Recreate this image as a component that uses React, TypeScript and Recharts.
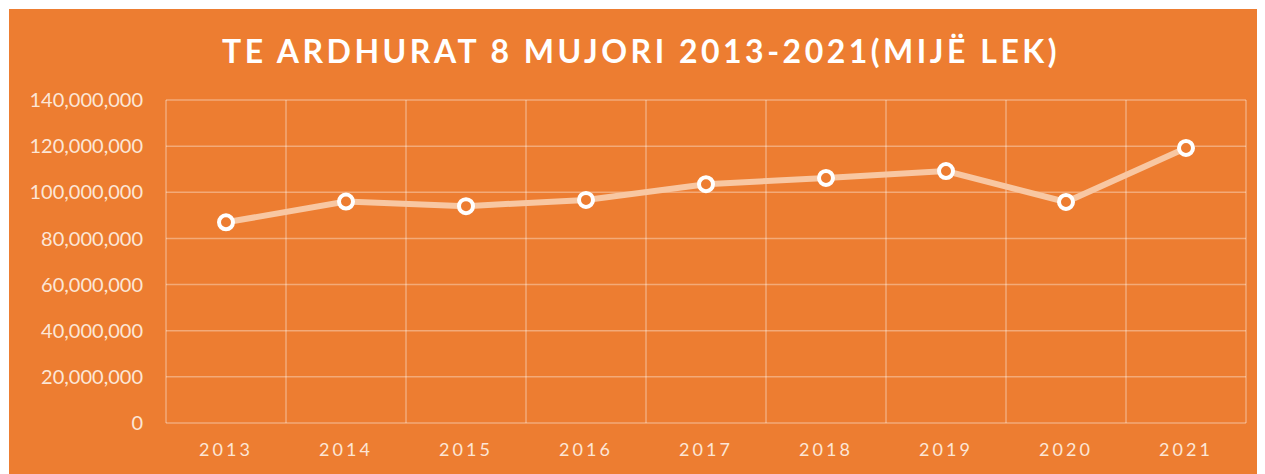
import React from "react";
import { LineChart, Line, XAxis, YAxis, CartesianGrid } from "recharts";

const years = ["2013", "2014", "2015", "2016", "2017", "2018", "2019", "2020", "2021"];
const revenues = [87000000, 96000000, 94000000, 96700000, 103500000, 106200000, 109200000, 95800000, 119200000];
const yTicks = [0, 20000000, 40000000, 60000000, 80000000, 100000000, 120000000, 140000000];
const title = "TE ARDHURAT 8 MUJORI 2013-2021(MIJË LEK)";

const data = years.map((y, i) => ({ year: y, value: revenues[i] }));

const W = 1256;
const H = 465;
const FONT = "Lato, 'Open Sans', sans-serif";
const TEXT = "#FCE6D6";
const GRID = "rgba(255,255,255,0.35)";

export default function App() {
  return (
    <div style={{ position: "relative", width: W, height: H, marginLeft: 1, marginTop: 1 }}>
      <style>{"html,body{overflow:hidden} ::-webkit-scrollbar{width:0;height:0;display:none}"}</style>
      <div style={{ position: "absolute", left: 0, top: 0, width: W + 30, height: H + 20, background: "#ED7D31" }} />
      <div
        style={{
          position: "absolute",
          left: 4,
          top: 23,
          width: W,
          textAlign: "center",
          color: "#FFFFFF",
          fontFamily: FONT,
          fontWeight: 700,
          fontSize: 32,
          letterSpacing: 3.5,
          lineHeight: "38px",
        }}
      >
        {title}
      </div>
      <div style={{ position: "absolute", left: 0, top: 0 }}>
        <LineChart width={W} height={H} data={data} margin={{ top: 91, right: 19, bottom: 0, left: 0 }}>
          <CartesianGrid
            stroke={GRID}
            strokeWidth={1.5}
            verticalCoordinatesGenerator={({ offset }: any) =>
              years.map((_, i) => offset.left + (i * offset.width) / years.length).concat([offset.left + offset.width])
            }
          />
          <XAxis
            dataKey="year"
            axisLine={false}
            tickLine={false}
            tickSize={0}
            tickMargin={20}
            height={51}
            padding={{ left: 60, right: 60 }}
            tick={{ fill: TEXT, fontFamily: FONT, fontSize: 18, letterSpacing: 3 }}
            interval={0}
          />
          <YAxis
            domain={[0, 140000000]}
            ticks={yTicks}
            axisLine={false}
            tickLine={false}
            tickSize={0}
            tickMargin={23}
            width={157}
            tickFormatter={(v: number) => v.toLocaleString("en-US")}
            tick={{ fill: TEXT, fontFamily: FONT, fontSize: 20 }}
          />
          <Line
            dataKey="value"
            stroke="#F8C7A2"
            strokeWidth={6}
            isAnimationActive={false}
            dot={{ r: 7, fill: "#ED7D31", stroke: "#FFFFFF", strokeWidth: 4 }}
            activeDot={false}
          />
        </LineChart>
      </div>
    </div>
  );
}
